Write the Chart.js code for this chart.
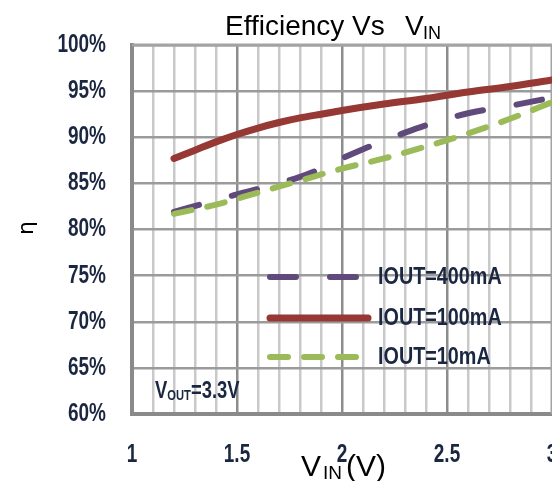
<!DOCTYPE html>
<html>
<head>
<meta charset="utf-8">
<script src="https://cdn.jsdelivr.net/npm/chart.js@4.4.1/dist/chart.umd.min.js"></script>
<style>
  html, body { margin: 0; padding: 0; background: #fff; }
  #wrap { width: 552px; height: 481px; position: relative; }
</style>
</head>
<body>
<div id="wrap"><canvas id="chart" width="552" height="481"></canvas></div>
<script>
// valores (VIN en V, eficiencia en %)
const vin400 = [1.2, 1.4, 1.6, 1.8, 1.9, 2.0, 2.1, 2.2, 2.3, 2.4, 2.6, 2.8, 3.0];
const eff400 = [81.9, 83.2, 84.4, 85.7, 86.6, 87.7, 88.7, 89.6, 90.5, 91.3, 92.6, 93.4, 94.3];
const vin100 = [1.2, 1.3, 1.4, 1.5, 1.6, 1.7, 1.8, 1.9, 2.0, 2.2, 2.4, 2.6, 2.8, 3.0];
const eff100 = [87.7, 88.6, 89.5, 90.3, 91.0, 91.6, 92.1, 92.5, 92.9, 93.6, 94.2, 94.9, 95.5, 96.2];
const vin10 = [1.2, 1.4, 1.6, 1.8, 2.0, 2.2, 2.4, 2.6, 2.8, 3.0];
const eff10 = [81.7, 82.7, 84.0, 85.3, 86.6, 87.7, 89.0, 90.4, 92.0, 93.8];

const seriesLabels = ["IOUT=400mA", "IOUT=100mA", "IOUT=10mA"];
const xTickLabels = ["1", "1.5", "2", "2.5", "3"];
const yTickLabels = ["60%", "65%", "70%", "75%", "80%", "85%", "90%", "95%", "100%"];

const textColor = "#1b2740";
const arial = '"Liberation Sans", Arial, sans-serif';

const toPoints = (xs, ys) => xs.map((x, i) => ({ x, y: ys[i] }));
const isMajor = (v) => Math.abs(v * 2 - Math.round(v * 2)) < 1e-6;

// texto estrecho: no hay fuente condensada, se comprime en horizontal
function narrowText(ctx, text, x, y, size, align, sx) {
  ctx.save();
  ctx.translate(x, y);
  ctx.scale(sx, 1);
  ctx.font = "bold " + size + "px " + arial;
  ctx.textAlign = align;
  ctx.fillText(text, 0, 0);
  const w = ctx.measureText(text).width * sx;
  ctx.restore();
  return w;
}

const datasets = [
  {
    label: seriesLabels[0],
    data: toPoints(vin400, eff400),
    borderColor: "#604a7b",
    borderWidth: 6,
    borderDash: [26, 34],
    borderCapStyle: "round",
    order: 1,
  },
  {
    label: seriesLabels[1],
    data: toPoints(vin100, eff100),
    borderColor: "#963834",
    borderWidth: 7,
    borderCapStyle: "round",
    order: 2,
  },
  {
    label: seriesLabels[2],
    data: toPoints(vin10, eff10),
    borderColor: "#9bbb59",
    borderWidth: 6,
    borderDash: [18, 16],
    borderCapStyle: "round",
    order: 0,
  },
];

const decoPlugin = {
  id: "deco",
  beforeDatasetsDraw(chart) {
    const { ctx, chartArea: a } = chart;
    ctx.save();
    ctx.strokeStyle = "#a3a3a3";
    ctx.lineWidth = 3;
    ctx.beginPath();
    ctx.moveTo(a.left, a.top);
    ctx.lineTo(a.right, a.top);
    ctx.lineTo(a.right, a.bottom);
    ctx.stroke();
    ctx.restore();
  },
  afterDatasetsDraw(chart) {
    const { ctx, chartArea: a, scales } = chart;
    ctx.save();
    ctx.fillStyle = textColor;
    ctx.textBaseline = "middle";

    // etiquetas de los ejes, en las posiciones de las escalas
    scales.x.ticks.forEach((t) => {
      if (!t.label) return;
      narrowText(ctx, t.label, scales.x.getPixelForValue(t.value), a.bottom + 41, 25, "center", 0.76);
    });
    scales.y.ticks.forEach((t) => {
      narrowText(ctx, t.label, a.left - 26, scales.y.getPixelForValue(t.value), 25, "right", 0.76);
    });

    // leyenda dentro del area
    const rows = [a.top + 232, a.top + 273, a.top + 312];
    chart.data.datasets.forEach((ds, r) => {
      ctx.strokeStyle = ds.borderColor;
      ctx.lineWidth = ds.borderWidth;
      ctx.lineCap = "round";
      ctx.setLineDash(ds.borderDash || []);
      ctx.beginPath();
      ctx.moveTo(a.left + 138, rows[r]);
      ctx.lineTo(a.left + 236, rows[r]);
      ctx.stroke();
      ctx.setLineDash([]);
      narrowText(ctx, ds.label, a.left + 246, rows[r] + 1, 23, "left", 0.86);
    });

    // VOUT=3.3V
    ctx.textBaseline = "alphabetic";
    let x = a.left + 23;
    const yb = a.bottom - 16;
    x += narrowText(ctx, "V", x, yb, 23, "left", 0.8);
    x += narrowText(ctx, "OUT", x, yb + 2, 14, "left", 0.8);
    narrowText(ctx, "=3.3V", x, yb, 23, "left", 0.8);

    // titulo
    ctx.fillStyle = "#000";
    ctx.textAlign = "left";
    ctx.font = "28px " + arial;
    ctx.fillText("Efficiency Vs", 225, 35);
    ctx.fillText("V", 405, 35);
    ctx.font = "18px " + arial;
    ctx.fillText("IN", 423, 39);

    // titulo eje x
    ctx.font = "30px " + arial;
    ctx.fillText("V", 301, 476);
    ctx.font = "19px " + arial;
    ctx.fillText("IN", 323, 479);
    ctx.font = "30px " + arial;
    ctx.fillText("(V)", 346, 476);

    // titulo eje y
    ctx.translate(27, 228);
    ctx.rotate(-Math.PI / 2);
    ctx.font = '22px "DejaVu Sans", sans-serif';
    ctx.textAlign = "center";
    ctx.textBaseline = "middle";
    ctx.fillText("η", 0, 0);
    ctx.restore();
  },
};

const ctx = document.getElementById("chart").getContext("2d");
new Chart(ctx, {
  type: "line",
  data: { datasets },
  options: {
    responsive: false,
    animation: false,
    elements: { point: { radius: 0 }, line: { tension: 0.4, cubicInterpolationMode: "monotone" } },
    layout: { padding: { top: 45, left: 0, right: 0, bottom: 0 } },
    plugins: { legend: { display: false }, tooltip: { enabled: false } },
    scales: {
      x: {
        type: "linear",
        min: 1,
        max: 3,
        ticks: {
          stepSize: 0.1,
          autoSkip: false,
          maxRotation: 0,
          color: "rgba(0,0,0,0)",
          callback: (v) => (isMajor(v) ? xTickLabels[Math.round((v - 1) * 2)] : ""),
        },
        grid: {
          drawTicks: false,
          lineWidth: 2.5,
          color: (c) => (isMajor(c.tick.value) ? "#8d8d8d" : "#c9c9c9"),
        },
        border: { color: "#8a8a8a", width: 4 },
        afterFit: (s) => {
          s.height = 67;
          s.paddingLeft = 0;
          s.paddingRight = 0;
        },
      },
      y: {
        min: 60,
        max: 100,
        ticks: {
          stepSize: 5,
          color: "rgba(0,0,0,0)",
          callback: (v) => yTickLabels[Math.round((v - 60) / 5)],
        },
        grid: { drawTicks: false, lineWidth: 2.5, color: "#9b9b9b" },
        border: { color: "#8a8a8a", width: 4 },
        afterFit: (s) => {
          s.width = 132;
          s.paddingTop = 0;
          s.paddingBottom = 0;
        },
      },
    },
  },
  plugins: [decoPlugin],
});
</script>
</body>
</html>
